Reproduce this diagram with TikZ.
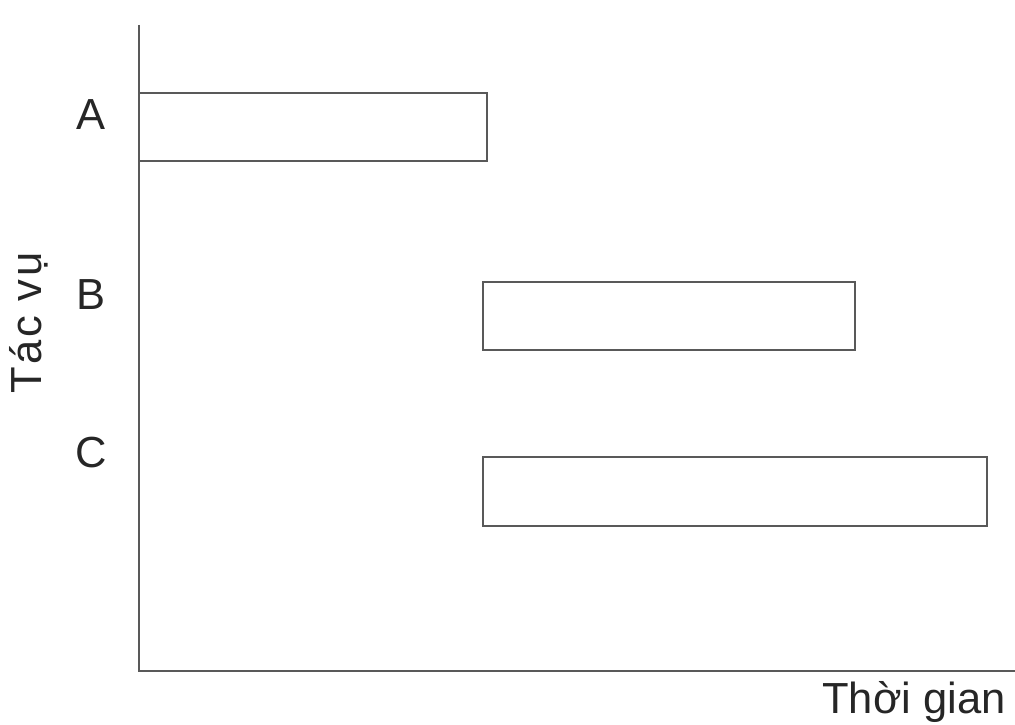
\documentclass[tikz,border=0pt]{standalone}
\usepackage{fontspec}
\setmainfont{Liberation Sans}
\begin{document}
\begin{tikzpicture}[x=1pt,y=-1pt,
  axis/.style={draw=black!65,line width=2pt},
  task/.style={draw=black!65,line width=2pt,fill=white},
  lbl/.style={font=\fontsize{43.5}{44}\selectfont,text=black!85,inner sep=0pt}]
\useasboundingbox[fill=white] (0,0) rectangle (1015,725);
\coordinate (top) at (139,25);
\coordinate (origin) at (139,671);
\coordinate (right) at (1015,671);
\draw[axis] (top) -- (origin) -- (right);
\draw[task] (139,93) rectangle (487,161) node[pos=.5] (boxA) {};
\draw[task] (483,282) rectangle (855,350) node[pos=.5] (boxB) {};
\draw[task] (483,457) rectangle (987,526) node[pos=.5] (boxC) {};
\node[lbl] (A) at (91,115) {A};
\node[lbl] (B) at (91,295) {B};
\node[lbl] (C) at (91,453) {C};
\node[lbl,rotate=90] (yl) at (29,323) {\addfontfeature{LetterSpace=6}Tác vụ};
\node[lbl] (xl) at (914,702) {Thời gian};
\end{tikzpicture}
\end{document}
